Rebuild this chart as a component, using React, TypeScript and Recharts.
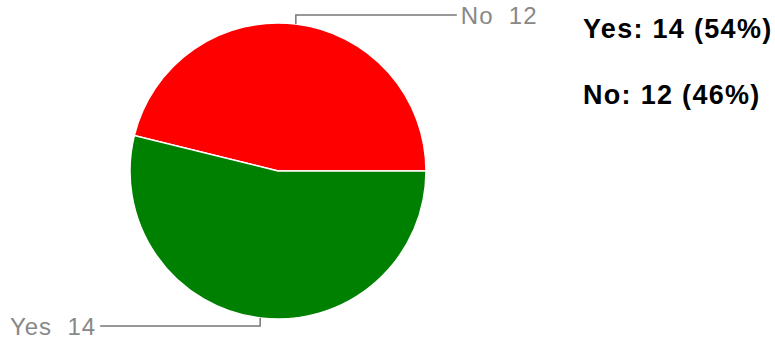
import { PieChart, Pie, Cell, Legend } from 'recharts';

const answers = ['No', 'Yes'];
const counts = [12, 14];
const sliceColors = ['#ff0000', '#008000'];
const legendOrder = ['Yes', 'No'];

const total = counts.reduce((a, b) => a + b, 0);
const data = answers.map((name, i) => ({ name, value: counts[i] }));

const RAD = Math.PI / 180;

function SliceLabel(props: any) {
    const { cx, cy, midAngle, outerRadius, name, value } = props;
    const ex = cx + outerRadius * Math.cos(-midAngle * RAD);
    const ey = cy + outerRadius * Math.sin(-midAngle * RAD);
    const top = ey < cy;
    const ky = top ? ey - 9 : ey + 8;
    const kx = top ? ex + 161 : ex - 160;
    return (
        <g>
            <polyline points={`${ex},${ey} ${ex},${ky} ${kx},${ky}`} fill="none" stroke="#777" strokeWidth={1.5} />
            <text
                x={top ? kx + 4 : kx - 4}
                y={ky + 9}
                textAnchor={top ? 'start' : 'end'}
                fill="#888"
                fontSize={24}
                letterSpacing={1}
                fontFamily="Arial, 'Liberation Sans', sans-serif"
            >
                {`${name}\u00a0\u00a0${value}`}
            </text>
        </g>
    );
}

function SideLegend() {
    return (
        <div style={{ fontFamily: "Arial, 'Liberation Sans', sans-serif", fontWeight: 'bold', fontSize: 27, letterSpacing: 1.3, color: '#000' }}>
            {legendOrder.map((name) => {
                const v = counts[answers.indexOf(name)];
                return (
                    <div key={name} style={{ height: 66, lineHeight: '27px', whiteSpace: 'nowrap' }}>
                        {`${name}: ${v} (${Math.round((v / total) * 100)}%)`}
                    </div>
                );
            })}
        </div>
    );
}

export default function App() {
    return (
        <div style={{ position: 'absolute', left: 0, top: 0, width: 775, height: 342, background: '#fff' }}>
            <PieChart width={775} height={342} margin={{ top: 0, right: 0, bottom: 0, left: 0 }}>
                <Pie
                    data={data}
                    dataKey="value"
                    nameKey="name"
                    cx={278}
                    cy={171}
                    outerRadius={148}
                    startAngle={0}
                    endAngle={360}
                    stroke="#fff"
                    strokeWidth={1.5}
                    label={SliceLabel}
                    labelLine={false}
                    isAnimationActive={false}
                >
                    {data.map((d, i) => (
                        <Cell key={d.name} fill={sliceColors[i]} />
                    ))}
                </Pie>
                <Legend content={SideLegend} wrapperStyle={{ position: 'absolute', left: 583, top: 16, width: 192 }} />
            </PieChart>
        </div>
    );
}
